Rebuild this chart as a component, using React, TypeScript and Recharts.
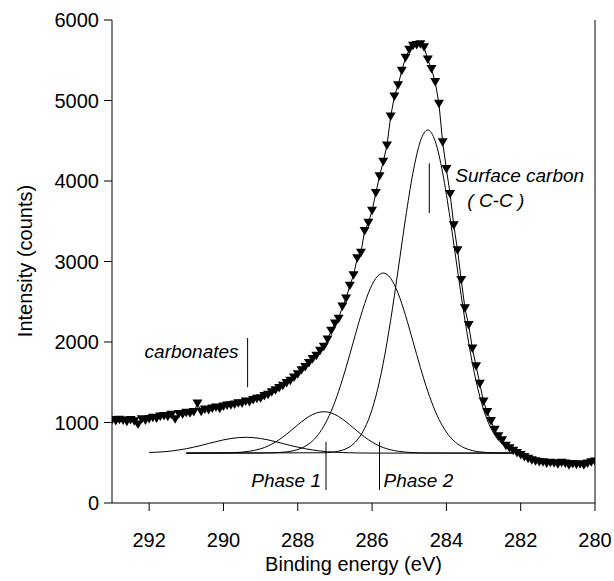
import { ComposedChart, Line, XAxis, YAxis, ReferenceLine } from "recharts"

// measured C 1s spectrum (0.1 eV steps)
const energyEv = [
  293.0, 292.9, 292.8, 292.7, 292.6, 292.5, 292.4, 292.3, 292.2, 292.1,
  292.0, 291.9, 291.8, 291.7, 291.6, 291.5, 291.4, 291.3, 291.2, 291.1,
  291.0, 290.9, 290.8, 290.7, 290.6, 290.5, 290.4, 290.3, 290.2, 290.1,
  290.0, 289.9, 289.8, 289.7, 289.6, 289.5, 289.4, 289.3, 289.2, 289.1,
  289.0, 288.9, 288.8, 288.7, 288.6, 288.5, 288.4, 288.3, 288.2, 288.1,
  288.0, 287.9, 287.8, 287.7, 287.6, 287.5, 287.4, 287.3, 287.2, 287.1,
  287.0, 286.9, 286.8, 286.7, 286.6, 286.5, 286.4, 286.3, 286.2, 286.1,
  286.0, 285.9, 285.8, 285.7, 285.6, 285.5, 285.4, 285.3, 285.2, 285.1,
  285.0, 284.9, 284.8, 284.7, 284.6, 284.5, 284.4, 284.3, 284.2, 284.1,
  284.0, 283.9, 283.8, 283.7, 283.6, 283.5, 283.4, 283.3, 283.2, 283.1,
  283.0, 282.9, 282.8, 282.7, 282.6, 282.5, 282.4, 282.3, 282.2, 282.1,
  282.0, 281.9, 281.8, 281.7, 281.6, 281.5, 281.4, 281.3, 281.2, 281.1,
  281.0, 280.9, 280.8, 280.7, 280.6, 280.5, 280.4, 280.3, 280.2, 280.1,
  280.0,
]
const measuredCounts = [
  1030, 1020, 1035, 1025, 1010, 1030, 1015, 975, 1040, 1025,
  1045, 1060, 1050, 1075, 1080, 1070, 1095, 1040, 1105, 1100,
  1120, 1115, 1130, 1235, 1135, 1160, 1155, 1175, 1185, 1170,
  1200, 1210, 1215, 1225, 1240, 1235, 1260, 1255, 1280, 1295,
  1300, 1330, 1345, 1375, 1400, 1430, 1455, 1490, 1520, 1560,
  1600, 1650, 1690, 1740, 1790, 1830, 1890, 1940, 2030, 2140,
  2230, 2290, 2440, 2540, 2700, 2830, 3040, 3110, 3380, 3480,
  3630, 3850, 4060, 4240, 4440, 4800, 5050, 5190, 5370, 5530,
  5630, 5680, 5690, 5700, 5660, 5510, 5390, 5230, 4960, 4480,
  4150, 3840, 3450, 3140, 2770, 2420, 2210, 1920, 1700, 1480,
  1260, 1130, 1020, 910, 830, 780, 710, 680, 650, 620,
  595, 570, 550, 530, 520, 510, 505, 490, 500, 495,
  480, 500, 490, 470, 485, 475, 480, 470, 490, 505,
  515,
]

// fitted components
const carbonateEv = [292.0, 291.8, 291.6, 291.4, 291.2, 291.0, 290.8, 290.6, 290.4, 290.2, 290.0, 289.8, 289.6, 289.4, 289.2, 289.0, 288.8, 288.6, 288.4, 288.2, 288.0, 287.8, 287.6, 287.4, 287.2, 287.0, 286.8, 286.6, 286.4, 286.2, 286.0, 282.2]
const carbonateCounts = [627, 631, 637, 646, 659, 674, 694, 715, 739, 762, 784, 801, 812, 816, 812, 801, 784, 762, 739, 715, 694, 674, 659, 646, 637, 631, 627, 624, 622, 621, 620, 620]

const phase1Ev = [291.0, 290.1, 289.9, 289.7, 289.5, 289.3, 289.1, 288.9, 288.7, 288.5, 288.3, 288.1, 287.9, 287.7, 287.5, 287.3, 287.1, 286.9, 286.7, 286.5, 286.3, 286.1, 285.9, 285.7, 285.5, 285.3, 285.1, 284.9, 284.7, 284.5, 282.2]
const phase1Counts = [620, 621, 623, 626, 632, 643, 661, 689, 731, 787, 855, 932, 1008, 1074, 1118, 1134, 1118, 1074, 1008, 932, 855, 787, 731, 689, 661, 643, 632, 626, 623, 621, 620]

const phase2Ev = [291.0, 288.9, 288.7, 288.5, 288.3, 288.1, 287.9, 287.7, 287.5, 287.3, 287.1, 286.9, 286.7, 286.5, 286.3, 286.1, 285.9, 285.7, 285.5, 285.3, 285.1, 284.9, 284.7, 284.5, 284.3, 284.1, 283.9, 283.7, 283.5, 283.3, 283.1, 282.9, 282.7, 282.5, 282.2]
const phase2Counts = [620, 621, 623, 627, 635, 651, 681, 734, 821, 954, 1141, 1387, 1684, 2009, 2331, 2606, 2791, 2857, 2791, 2606, 2331, 2009, 1684, 1387, 1141, 954, 821, 734, 681, 651, 635, 627, 623, 621, 620]

const surfaceEv = [291.0, 287.3, 287.1, 286.9, 286.7, 286.5, 286.3, 286.1, 285.9, 285.7, 285.5, 285.3, 285.1, 284.9, 284.7, 284.5, 284.3, 284.1, 283.9, 283.7, 283.5, 283.3, 283.1, 282.9, 282.7, 282.5, 282.3, 282.1]
const surfaceCounts = [620, 624, 630, 644, 674, 735, 845, 1032, 1322, 1736, 2270, 2892, 3534, 4100, 4494, 4634, 4494, 4100, 3534, 2892, 2270, 1736, 1322, 1032, 845, 735, 674, 644]

const xTicks = [292, 290, 288, 286, 284, 282, 280]
const yTicks = [0, 1000, 2000, 3000, 4000, 5000, 6000]

const toPoints = (ev: number[], counts: number[]) => ev.map((e, i) => ({ ev: e, counts: counts[i] }))

const measured = toPoints(energyEv, measuredCounts)
const components = [
  toPoints(carbonateEv, carbonateCounts),
  toPoints(phase1Ev, phase1Counts),
  toPoints(phase2Ev, phase2Counts),
  toPoints(surfaceEv, surfaceCounts),
]

const FONT = "'Liberation Sans', Arial, Helvetica, sans-serif"
const FS = 20
const NOTE_FS = 19

const Triangle = (props: any) => {
  const { cx, cy } = props
  if (cx == null || cy == null) return null
  return <path d={`M${cx - 5},${cy - 4}L${cx + 5},${cy - 4}L${cx},${cy + 4.5}Z`} fill="#000" />
}

// label next to an annotation tick: side, gap from the line, rows with vertical offsets from the line top
const annotation = (side: "left" | "right", rows: { text: string; dx: number; dy: number }[]) => ({
  content: (p: any) => {
    const vb = p.viewBox || { x: 0, y: 0, width: 0, height: 0 }
    return (
      <g>
        {rows.map((r, i) => (
          <text
            key={i}
            x={side === "left" ? vb.x - r.dx : vb.x + vb.width + r.dx}
            y={vb.y + r.dy}
            textAnchor={side === "left" ? "end" : "start"}
            dominantBaseline="central"
            fontStyle="italic"
            fontSize={NOTE_FS}
            fontFamily={FONT}
            fill="#000"
          >
            {r.text}
          </text>
        ))}
      </g>
    )
  },
})

export default function App() {
  return (
    <div style={{ position: "absolute", left: 0, top: 0, background: "#fff", fontFamily: FONT }}>
      <ComposedChart width={614} height={581} data={measured} margin={{ top: 20, right: 19, bottom: 0, left: 0 }}>
        <XAxis
          type="number"
          dataKey="ev"
          domain={[280, 293]}
          reversed
          ticks={xTicks}
          allowDataOverflow
          height={78}
          tickSize={8}
          tickMargin={22}
          stroke="#000"
          tick={{ fontSize: FS, fill: "#000", fontFamily: FONT }}
          label={{ value: "Binding energy (eV)", position: "insideBottom", offset: 10, fontSize: FS, fill: "#000", fontFamily: FONT }}
        />
        <YAxis
          type="number"
          domain={[0, 6000]}
          ticks={yTicks}
          width={112}
          tickSize={8}
          tickMargin={5}
          stroke="#000"
          tick={{ fontSize: FS, fill: "#000", fontFamily: FONT }}
          label={{
            content: () => (
              <text x={25} y={261} transform="rotate(-90, 25, 261)" textAnchor="middle" dominantBaseline="central" fontSize={FS} fontFamily={FONT} fill="#000">
                Intensity (counts)
              </text>
            ),
          }}
        />
        <ReferenceLine x={280} stroke="#000" />
        {components.map((c, i) => (
          <Line key={i} data={c} dataKey="counts" type="monotone" stroke="#000" strokeWidth={1} dot={false} isAnimationActive={false} />
        ))}
        <Line
          dataKey="counts"
          type="linear"
          stroke="#000"
          strokeWidth={1}
          dot={(p: any) => <Triangle key={p.index} {...p} />}
          isAnimationActive={false}
        />
        <ReferenceLine
          segment={[{ x: 289.35, y: 1440 }, { x: 289.35, y: 2050 }]}
          stroke="#000"
          label={annotation("left", [{ text: "carbonates", dx: 9, dy: 14 }])}
        />
        <ReferenceLine
          segment={[{ x: 287.24, y: 160 }, { x: 287.24, y: 760 }]}
          stroke="#000"
          label={annotation("left", [{ text: "Phase 1", dx: 5, dy: 39 }])}
        />
        <ReferenceLine
          segment={[{ x: 285.8, y: 160 }, { x: 285.8, y: 760 }]}
          stroke="#000"
          label={annotation("right", [{ text: "Phase 2", dx: 4, dy: 39 }])}
        />
        <ReferenceLine
          segment={[{ x: 284.46, y: 3600 }, { x: 284.46, y: 4220 }]}
          stroke="#000"
          label={annotation("right", [
            { text: "Surface carbon", dx: 26, dy: 12 },
            { text: "( C-C )", dx: 38, dy: 37 },
          ])}
        />
      </ComposedChart>
    </div>
  )
}
